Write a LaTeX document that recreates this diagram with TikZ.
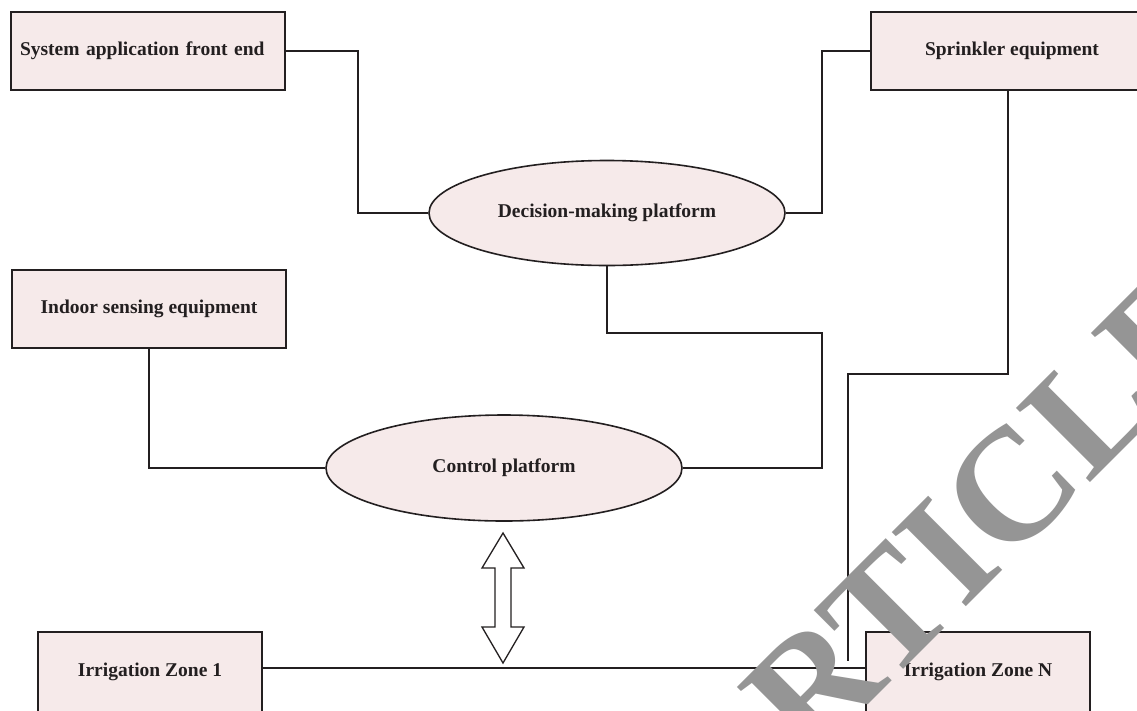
\documentclass[tikz,border=0pt]{standalone}
\usepackage{fontspec}
\setmainfont{Liberation Serif}
\usetikzlibrary{shapes.geometric}
\definecolor{boxfill}{HTML}{F6EAEA}
\definecolor{ink}{HTML}{231F20}
\definecolor{wm}{HTML}{959595}
\tikzset{
  box/.style={draw=ink, fill=boxfill, line width=1.6pt, minimum height=78, inner sep=0,
              font=\bfseries\fontsize{19.5}{23}\selectfont, text=ink},
  plat/.style={ellipse, draw=ink, fill=boxfill, line width=1.6pt, minimum width=356,
               minimum height=105, inner sep=0, font=\bfseries\fontsize{19.5}{23}\selectfont, text=ink},
  link/.style={draw=ink, line width=1.6pt},
  dblarrow/.style={draw=ink, line width=1.3pt, fill=white, line join=miter},
  stamp/.style={text=wm, inner sep=0, font=\bfseries\fontsize{160}{160}\selectfont}
}
\begin{document}
\begin{tikzpicture}[x=1pt,y=-1pt]
\useasboundingbox (0,0) rectangle (1137,710);
\clip (0,0) rectangle (1137,710);
\fill[white] (0,0) rectangle (1137,710);

\node[box, minimum width=274, text width=256, align=left] (sys) at (148,51) {System application front end};
\node[box, minimum width=282] (spr) at (1012,51) {Sprinkler equipment};
\node[box, minimum width=274] (ind) at (149,309) {Indoor sensing equipment};
\node[plat] (dec) at (607,213) {Decision-making platform};
\node[plat, minimum height=106] (ctl) at (504,468) {Control platform};
\node[box, minimum width=224, minimum height=80] (z1) at (150,672) {Irrigation Zone 1};
\node[box, minimum width=224, minimum height=80] (zN) at (978,672) {Irrigation Zone N};

\draw[link] (sys.east) -- ++(72,0) |- (dec.west);
\draw[link] (spr.west) -- ++(-48,0) |- (dec.east);
\draw[link] (dec.south) |- (822,333) |- (ctl.east);
\draw[link] (ind.south) |- (ctl.west);
\coordinate (busend) at (848,661);
\draw[link] ([xshift=-4pt]spr.south) |- (848,374) -- (busend);
\draw[link] ([yshift=4pt]z1.east) -- ([yshift=4pt]zN.west);

\coordinate (at) at (503,533);
\begin{scope}[shift={(at)}]
\draw[dblarrow] (0,0) -- (21,35) -- (8,35) -- (8,94) -- (21,94) -- (0,130)
  -- (-21,94) -- (-8,94) -- (-8,35) -- (-21,35) -- cycle;
\end{scope}

\node[stamp, rotate=45, anchor=base west] (wmk) at (809,764) {RTICLE};
\end{tikzpicture}
\end{document}
